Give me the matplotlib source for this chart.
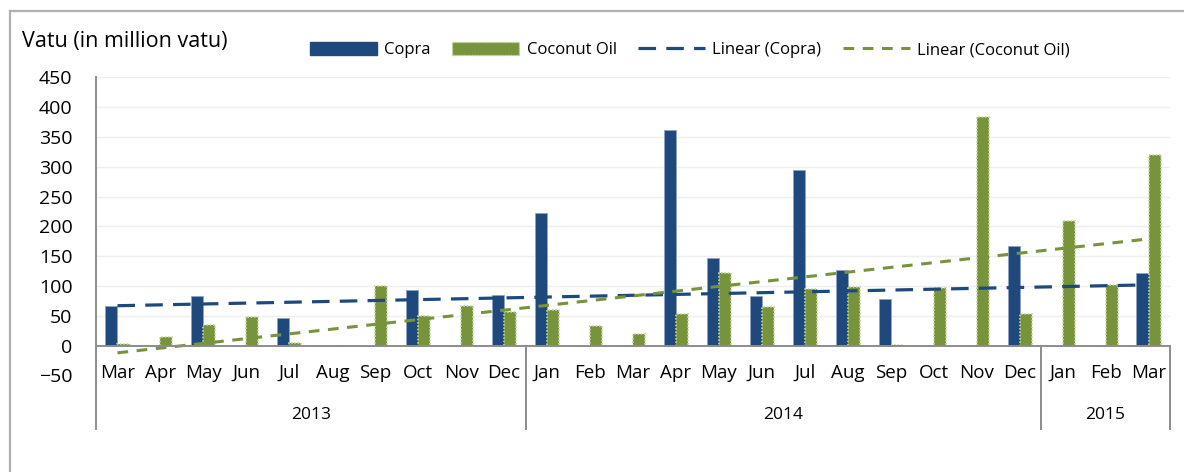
import numpy as np
import matplotlib
matplotlib.use("Agg")
import matplotlib.pyplot as plt
from matplotlib.patches import Patch
from matplotlib.lines import Line2D
from matplotlib.transforms import blended_transform_factory

plt.rcParams["font.family"] = ["Open Sans", "DejaVu Sans"]

months = ["Mar", "Apr", "May", "Jun", "Jul", "Aug", "Sep", "Oct", "Nov", "Dec",
          "Jan", "Feb", "Mar", "Apr", "May", "Jun", "Jul", "Aug", "Sep", "Oct", "Nov", "Dec",
          "Jan", "Feb", "Mar"]
years = ["2013", "2014", "2015"]
year_sizes = [10, 12, 3]

copra = [66, 0, 83, 0, 47, 0, 0, 93, 0, 85,
         222, 0, 0, 361, 147, 83, 295, 127, 78, 0, 0, 167,
         0, 0, 122]
coconut_oil = [3, 15, 34, 48, 4, 0, 100, 49, 66, 56,
               59, 33, 20, 53, 122, 65, 95, 99, 1, 97, 383, 53,
               209, 102, 320]

# Excel trendline values at the first and last month
copra_trend = [67, 102]
oil_trend = [-12, 179]

COPRA_COL = "#1F497D"
OIL_COL = "#77933C"
GRID_COL = "#EFEFEF"
AXIS_COL = "#8C8C8C"

W, H = 1184, 472
fig = plt.figure(figsize=(W / 100, H / 100), dpi=100)
ax = fig.add_axes([96 / W, 1 - 375.5 / H, 1074 / W, 298.2 / H])

x = np.arange(len(months))
bw = 0.28
ax.bar(x - bw, copra, width=bw, align="edge", color=COPRA_COL,
       edgecolor="#8EA4C2", linewidth=0.6, zorder=3)
ax.bar(x, coconut_oil, width=bw, align="edge", color=OIL_COL,
       edgecolor="#C3D69B", linewidth=1.2, linestyle=(0, (1, 1)), zorder=3)

ends = [x[0], x[-1]]
ax.plot(ends, copra_trend, color=COPRA_COL, lw=2.3, dashes=(5.5, 3.2), zorder=4)
ax.plot(ends, oil_trend, color=OIL_COL, lw=2.2, dashes=(3.5, 2.8), zorder=4)

ax.set_xlim(-0.5, len(months) - 0.5)
ax.set_ylim(-50, 450)
ax.set_yticks(np.arange(-50, 451, 50))
for v in range(50, 451, 50):
    ax.axhline(v, color=GRID_COL, lw=1, zorder=1)
ax.axhline(0, color=AXIS_COL, lw=1.4, zorder=5)

for s in ax.spines.values():
    s.set_visible(False)
ax.tick_params(axis="y", length=0, pad=17, labelsize=14)
ax.set_xticks([])

# category axis: months, years and separators
tr = blended_transform_factory(ax.transData, ax.transAxes)
for i, m in enumerate(months):
    ax.text(i, 0.008, m, transform=tr, ha="center", va="center", fontsize=13.5)

y0 = 50 / 500
ybot = -0.179
ax.plot([-0.5, -0.5], [1, ybot], transform=tr, color=AXIS_COL, lw=1.4, clip_on=False)
edge = -0.5
for yr, n in zip(years, year_sizes):
    ax.text(edge + n / 2, -0.134, yr, transform=tr, ha="center", va="center", fontsize=12.5)
    edge += n
    ax.plot([edge, edge], [y0, ybot], transform=tr, color=AXIS_COL, lw=1.4, clip_on=False)

fig.text(22 / W, 1 - 42 / H, "Vatu (in million vatu)", ha="left", va="center", fontsize=15.5)

handles = [
    Patch(facecolor=COPRA_COL, edgecolor=COPRA_COL),
    Patch(facecolor=OIL_COL, edgecolor="#C3D69B", linestyle=(0, (1, 1))),
    Line2D([0], [0], color=COPRA_COL, lw=2.3, dashes=(5.5, 3.2)),
    Line2D([0], [0], color=OIL_COL, lw=2.2, dashes=(3.5, 2.8)),
]
labels = ["Copra", "Coconut Oil", "Linear (Copra)", "Linear (Coconut Oil)"]
fig.legend(handles, labels, loc="center", bbox_to_anchor=(690 / W, 1 - 50 / H),
           ncol=4, frameon=False, fontsize=12, handlelength=4.0, handleheight=0.8,
           handletextpad=0.45, columnspacing=1.3, borderpad=0)

# chart-area border (top and left edges visible)
fig.add_artist(Line2D([10 / W, 1], [1 - 11 / H, 1 - 11 / H], color="#B0B0B0", lw=1.6))
fig.add_artist(Line2D([10 / W, 10 / W], [0, 1 - 11 / H], color="#B0B0B0", lw=1.6))

fig.savefig("out.png", dpi=100)
